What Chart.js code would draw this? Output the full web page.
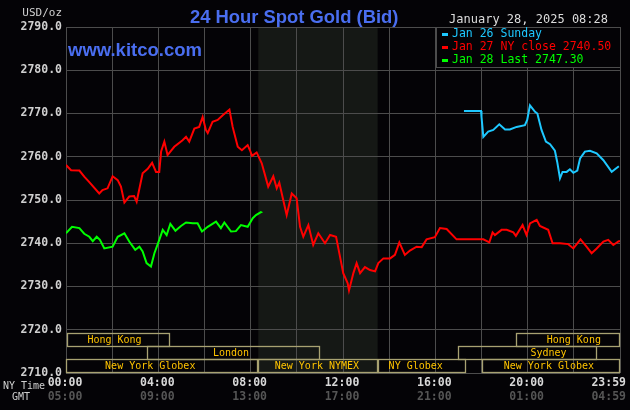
<!DOCTYPE html>
<html>
<head>
<meta charset="utf-8">
<script src="https://cdn.jsdelivr.net/npm/chart.js@4.4.1/dist/chart.umd.min.js"></script>
<style>
  html, body { margin: 0; padding: 0; background: #040306; }
  #wrap { width: 630px; height: 410px; position: relative; }
</style>
</head>
<body>
<div id="wrap"><canvas id="c" width="630" height="410"></canvas></div>
<script>
// ---------- DATA ----------
const TITLE = '24 Hour Spot Gold (Bid)';
const SITE = 'www.kitco.com';
const STAMP = 'January 28, 2025 08:28';
const UNIT = 'USD/oz';
const SERIES_NAMES = ['Jan 26 Sunday', 'Jan 27 NY close 2740.50', 'Jan 28 Last 2747.30'];

const Y_TICKS = [2710, 2720, 2730, 2740, 2750, 2760, 2770, 2780, 2790];
const NY_TIME_TICKS = [0, 4, 8, 12, 16, 20, 24];
const NY_TIME_LABELS = ['00:00', '04:00', '08:00', '12:00', '16:00', '20:00', '23:59'];
const GMT_LABELS = ['05:00', '09:00', '13:00', '17:00', '21:00', '01:00', '04:59'];

// Jan 26 (Sunday) – hours NY time, price
const JAN26_HOURS = [17.24, 17.98, 18.0, 18.08, 18.29, 18.51, 18.77, 19.02, 19.23, 19.52, 19.88, 19.98, 20.1, 20.32, 20.42, 20.6, 20.79, 20.97, 21.18, 21.28, 21.4, 21.51, 21.69, 21.83, 21.98, 22.15, 22.27, 22.48, 22.7, 22.99, 23.28, 23.64, 23.95];
const JAN26_PRICE = [2770.6, 2770.6, 2769.2, 2764.6, 2765.8, 2766.2, 2767.5, 2766.3, 2766.3, 2766.9, 2767.3, 2768.5, 2771.9, 2770.4, 2770.0, 2766.2, 2763.5, 2762.9, 2761.4, 2758.8, 2755.0, 2756.5, 2756.5, 2757.1, 2756.3, 2756.8, 2759.6, 2761.2, 2761.4, 2760.8, 2759.2, 2756.5, 2757.8];

// Jan 27
const JAN27_HOURS = [0, 0.22, 0.58, 0.79, 1.0, 1.44, 1.58, 1.8, 2.02, 2.24, 2.38, 2.53, 2.74, 2.95, 3.06, 3.32, 3.54, 3.73, 3.9, 4.04, 4.12, 4.26, 4.4, 4.69, 5.05, 5.2, 5.34, 5.56, 5.77, 5.92, 6.06, 6.14, 6.35, 6.57, 6.79, 7.08, 7.22, 7.44, 7.62, 7.87, 7.97, 8.06, 8.26, 8.48, 8.76, 8.98, 9.13, 9.24, 9.56, 9.78, 9.99, 10.14, 10.28, 10.5, 10.71, 10.93, 11.22, 11.44, 11.7, 11.87, 12.01, 12.2, 12.26, 12.45, 12.59, 12.74, 12.95, 13.17, 13.39, 13.53, 13.75, 14.04, 14.25, 14.44, 14.68, 14.9, 15.19, 15.41, 15.62, 15.98, 16.2, 16.49, 16.92, 18.08, 18.34, 18.48, 18.58, 18.87, 19.09, 19.38, 19.49, 19.78, 19.95, 20.1, 20.39, 20.53, 20.89, 21.08, 21.4, 21.76, 21.98, 22.29, 22.55, 22.77, 22.99, 23.28, 23.49, 23.71, 23.93, 24.0];
const JAN27_PRICE = [2758.1, 2756.9, 2756.8, 2755.4, 2754.2, 2751.5, 2752.3, 2752.7, 2755.5, 2754.6, 2753.1, 2749.4, 2750.8, 2750.9, 2749.6, 2756.2, 2757.2, 2758.6, 2756.5, 2756.5, 2761.2, 2763.5, 2760.4, 2762.3, 2763.8, 2764.6, 2763.5, 2766.5, 2766.9, 2769.2, 2766.2, 2765.5, 2768.1, 2768.5, 2769.6, 2770.9, 2766.9, 2762.3, 2761.5, 2762.7, 2761.5, 2760.2, 2761.0, 2758.5, 2753.1, 2755.5, 2752.7, 2754.0, 2746.5, 2751.5, 2750.4, 2743.8, 2741.5, 2744.2, 2739.6, 2742.3, 2740.0, 2741.9, 2741.5, 2736.9, 2733.1, 2730.8, 2729.1, 2733.1, 2735.4, 2733.1, 2734.5, 2733.8, 2733.5, 2735.4, 2736.5, 2736.5, 2737.3, 2740.2, 2737.3, 2738.3, 2739.2, 2739.1, 2740.9, 2741.4, 2743.5, 2743.3, 2740.9, 2740.9, 2740.2, 2742.5, 2741.9, 2743.1, 2743.1, 2742.5, 2741.7, 2744.2, 2741.9, 2744.6, 2745.4, 2744.0, 2743.1, 2740.0, 2740.0, 2739.8, 2738.8, 2740.9, 2739.2, 2737.7, 2738.8, 2740.4, 2740.8, 2739.6, 2740.4, 2740.5];

// Jan 28
const JAN28_HOURS = [0, 0.26, 0.58, 0.79, 1.01, 1.16, 1.33, 1.47, 1.66, 2.02, 2.24, 2.53, 2.74, 3.0, 3.18, 3.32, 3.49, 3.68, 3.83, 4.04, 4.19, 4.36, 4.52, 4.74, 4.98, 5.2, 5.49, 5.7, 5.89, 6.14, 6.5, 6.71, 6.86, 7.15, 7.36, 7.58, 7.87, 8.09, 8.23, 8.45, 8.47];
const JAN28_PRICE = [2742.3, 2743.8, 2743.5, 2742.2, 2741.5, 2740.5, 2741.5, 2740.8, 2738.8, 2739.2, 2741.5, 2742.3, 2740.4, 2738.5, 2739.2, 2738.1, 2735.4, 2734.6, 2737.7, 2740.8, 2743.1, 2741.9, 2744.5, 2742.9, 2744.0, 2744.8, 2744.6, 2744.6, 2742.7, 2743.8, 2745.0, 2743.5, 2744.8, 2742.7, 2742.8, 2744.2, 2743.8, 2745.8, 2746.5, 2747.2, 2747.3];

// NYMEX shaded window (NY hours)
const NYMEX_OPEN = 8.33;
const NYMEX_CLOSE = 13.5;

// Trading sessions
const SESSION_NAMES = ['Hong Kong', 'Hong Kong', 'London', 'Sydney', 'New York Globex', 'New York NYMEX', 'NY Globex', 'New York Globex'];
const SESSION_ROW = [0, 0, 1, 1, 2, 2, 2, 2];
const SESSION_START = [0.04, 19.5, 3.5, 17.0, 0, 8.33, 13.5, 18.0];
const SESSION_END = [4.5, 24, 11.0, 23.0, 8.33, 13.5, 17.35, 24];
const SESSION_LABEL_AT = [2.1, 22.0, 7.15, 20.9, 3.65, 10.87, 15.15, 20.92];

// ---------- STYLE ----------
const BG = '#040306';
const SHADE = '#151815';
const GRID = '#4c4c4c';
const COLORS = ['#1ec8ff', '#ff0000', '#00ff00'];
const BLUE = '#4a6ef0';
const MONO = 'DejaVu Sans Mono';

const toXY = (h, p) => h.map((v, i) => ({ x: v, y: p[i] }));

const decor = {
  id: 'decor',
  beforeDraw(chart) {
    const { ctx, chartArea: a, scales: { x } } = chart;
    ctx.save();
    ctx.fillStyle = BG;
    ctx.fillRect(0, 0, chart.width, chart.height);
    const x0 = x.getPixelForValue(NYMEX_OPEN), x1 = x.getPixelForValue(NYMEX_CLOSE);
    ctx.fillStyle = SHADE;
    ctx.fillRect(x0, a.top, x1 - x0, a.bottom - a.top);
    ctx.restore();
  },
  beforeDatasetsDraw(chart) {
    const { ctx, chartArea: a, scales: { x } } = chart;
    ctx.save();
    const rowH = 13;
    const top0 = a.bottom - 40;
    ctx.strokeStyle = '#a8a272';
    ctx.lineWidth = 1.3;
    ctx.font = '10px ' + MONO;
    ctx.textAlign = 'center';
    ctx.textBaseline = 'middle';
    SESSION_NAMES.forEach((name, i) => {
      const xs = Math.round(x.getPixelForValue(SESSION_START[i])) + 0.5;
      const xe = Math.round(x.getPixelForValue(SESSION_END[i])) - 0.5;
      const yt = top0 + SESSION_ROW[i] * rowH + 0.5;
      ctx.strokeRect(xs, yt, xe - xs, rowH);
    });
    ctx.fillStyle = '#ffc400';
    SESSION_NAMES.forEach((name, i) => {
      const yt = top0 + SESSION_ROW[i] * rowH;
      ctx.fillText(name, x.getPixelForValue(SESSION_LABEL_AT[i]), yt + rowH / 2 + 1);
    });
    ctx.restore();
  },
  afterDraw(chart) {
    const { ctx, chartArea: a, scales: { x } } = chart;
    ctx.save();
    // legend box
    const lx = 436, ly = a.top, lw = a.right - 436, lh = 40;
    ctx.fillStyle = BG;
    ctx.fillRect(lx, ly, lw, lh);
    ctx.strokeStyle = GRID;
    ctx.lineWidth = 1;
    ctx.strokeRect(lx + 0.5, ly + 0.5, lw, lh);
    ctx.font = '11.5px ' + MONO;
    ctx.textAlign = 'left';
    ctx.textBaseline = 'middle';
    SERIES_NAMES.forEach((n, i) => {
      const yy = ly + 7 + i * 13;
      ctx.fillStyle = COLORS[i];
      ctx.fillRect(442, yy - 1, 6, 3);
      ctx.fillText(n, 452, yy + 0.5);
    });
    // title
    ctx.fillStyle = BLUE;
    ctx.font = 'bold 18.4px "Liberation Sans"';
    ctx.textAlign = 'left';
    ctx.textBaseline = 'alphabetic';
    ctx.fillText(TITLE, 190, 23);
    ctx.font = 'bold 18.5px "Liberation Sans"';
    ctx.fillText(SITE, 68, 56);
    // stamp
    ctx.fillStyle = '#dcdcdc';
    ctx.font = '12px ' + MONO;
    ctx.textAlign = 'right';
    ctx.textBaseline = 'middle';
    ctx.fillText(STAMP, 608, 20);
    // unit
    ctx.fillStyle = '#d0d0d0';
    ctx.font = '11px ' + MONO;
    ctx.fillText(UNIT, 62, 13);
    // bottom labels
    ctx.textAlign = 'left';
    ctx.font = '10px ' + MONO;
    ctx.fillStyle = '#cfcfcf';
    ctx.fillText('NY Time', 3, 386);
    ctx.fillText('GMT', 12, 397);
    ctx.font = 'bold 11.5px ' + MONO;
    NY_TIME_TICKS.forEach((h, i) => {
      const px = x.getPixelForValue(h);
      const last = i === NY_TIME_TICKS.length - 1;
      ctx.textAlign = last ? 'right' : 'center';
      const tx = last ? 626 : px - 1;
      ctx.fillStyle = '#d8d8d8';
      ctx.fillText(NY_TIME_LABELS[i], tx, 383.5);
      ctx.fillStyle = '#555555';
      ctx.fillText(GMT_LABELS[i], tx, 397);
    });
    ctx.restore();
  }
};

new Chart(document.getElementById('c'), {
  type: 'line',
  data: {
    datasets: [
      { label: SERIES_NAMES[0], data: toXY(JAN26_HOURS, JAN26_PRICE), borderColor: COLORS[0], borderWidth: 2, pointRadius: 0, tension: 0 },
      { label: SERIES_NAMES[1], data: toXY(JAN27_HOURS, JAN27_PRICE), borderColor: COLORS[1], borderWidth: 2, pointRadius: 0, tension: 0 },
      { label: SERIES_NAMES[2], data: toXY(JAN28_HOURS, JAN28_PRICE), borderColor: COLORS[2], borderWidth: 2, pointRadius: 0, tension: 0 }
    ]
  },
  options: {
    responsive: false,
    animation: false,
    events: [],
    layout: { padding: { top: 27, right: 10, left: 0, bottom: 0 } },
    plugins: { legend: { display: false }, tooltip: { enabled: false }, title: { display: false } },
    scales: {
      x: {
        type: 'linear', min: 0, max: 24,
        ticks: { stepSize: 2, display: false },
        grid: { color: GRID, drawTicks: false, lineWidth: 1 },
        border: { display: false },
        afterFit: s => { s.height = 37; }
      },
      y: {
        min: 2710, max: 2790,
        afterBuildTicks: s => { s.ticks = Y_TICKS.map(v => ({ value: v })); },
        ticks: {
          callback: v => v.toFixed(1),
          color: '#d0d0d0',
          font: { family: MONO, size: 11.5, weight: 'bold' },
          padding: 4
        },
        grid: { color: GRID, drawTicks: false, lineWidth: 1 },
        border: { display: false },
        afterFit: s => { s.width = 66; }
      }
    }
  },
  plugins: [decor]
});
</script>
</body>
</html>
